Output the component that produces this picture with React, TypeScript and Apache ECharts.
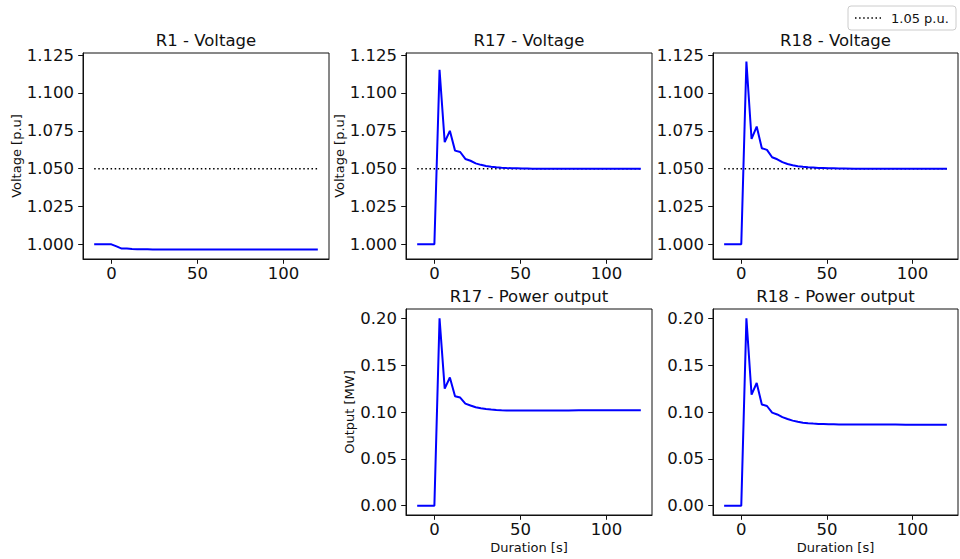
import { useEffect, useRef } from "react";
import * as echarts from "echarts";

// Sample times [s]
const TIME_S = [
  -10, 0, 3, 6, 9, 12, 15, 18, 21, 24, 27, 30, 33, 36, 39, 42, 45, 48, 51, 54, 57, 60,
  66, 72, 78, 84, 90, 96, 102, 108, 114, 120,
];

// Bus voltages [p.u.]
const R1_VOLTAGE = [
  1.0, 1.0, 0.9986, 0.9972, 0.9972, 0.9969, 0.9968, 0.9967, 0.9967, 0.9966, 0.9966, 0.9966,
  0.9966, 0.9966, 0.9966, 0.9966, 0.9966, 0.9966, 0.9966, 0.9966, 0.9966, 0.9966,
  0.9966, 0.9966, 0.9966, 0.9966, 0.9966, 0.9966, 0.9966, 0.9966, 0.9966, 0.9966,
];
const R17_VOLTAGE = [
  1.0, 1.0, 1.1153, 1.0675, 1.075, 1.0619, 1.061, 1.0564, 1.0552, 1.0535, 1.0525, 1.0518,
  1.0513, 1.0509, 1.0506, 1.0504, 1.0503, 1.0502, 1.0501, 1.0501, 1.05, 1.05,
  1.05, 1.05, 1.05, 1.05, 1.05, 1.05, 1.05, 1.05, 1.05, 1.05,
];
const R18_VOLTAGE = [
  1.0, 1.0, 1.1208, 1.0696, 1.0778, 1.0635, 1.0624, 1.0575, 1.0562, 1.0543, 1.0531, 1.0522,
  1.0516, 1.0512, 1.0509, 1.0507, 1.0505, 1.0504, 1.0503, 1.0502, 1.0501, 1.0501,
  1.05, 1.05, 1.05, 1.05, 1.05, 1.05, 1.05, 1.05, 1.05, 1.05,
];

// Generator active power output [MW]
const R17_POWER = [
  0, 0, 0.2, 0.125, 0.1368, 0.1168, 0.1154, 0.109, 0.1069, 0.1051, 0.104, 0.1032,
  0.1026, 0.1021, 0.1018, 0.1016, 0.1015, 0.1015, 0.1015, 0.1015, 0.1015, 0.1015,
  0.1015, 0.1016, 0.1017, 0.1018, 0.1018, 0.1019, 0.1019, 0.102, 0.102, 0.102,
];
const R18_POWER = [
  0, 0, 0.2, 0.1186, 0.131, 0.108, 0.1064, 0.0993, 0.0974, 0.0945, 0.0925, 0.0908,
  0.0895, 0.0886, 0.088, 0.0876, 0.0873, 0.0871, 0.0869, 0.0868, 0.0867, 0.0867,
  0.0866, 0.0866, 0.0866, 0.0866, 0.0866, 0.0865, 0.0865, 0.0865, 0.0865, 0.0865,
];

const VOLTAGE_LIMIT = 1.05;

const TIME_TICKS = [0, 50, 100];
const VOLTAGE_TICKS = [1.0, 1.025, 1.05, 1.075, 1.1, 1.125];
const POWER_TICKS = [0, 0.05, 0.1, 0.15, 0.2];

const PANEL_TITLES = [
  "R1 - Voltage",
  "R17 - Voltage",
  "R18 - Voltage",
  "R17 - Power output",
  "R18 - Power output",
];

const FONT = "DejaVu Sans";
const INK = "#111";
const DOTTED: number[] = [1.5, 2.6];

type Panel = {
  title: string;
  values: number[];
  kind: "voltage" | "power";
  box: { left: number; top: number; width: number; height: number };
  yName: string;
  xName: string;
  limit: boolean;
};

const PANELS: Panel[] = [
  { title: PANEL_TITLES[0], values: R1_VOLTAGE, kind: "voltage", box: { left: 83, top: 53, width: 246, height: 206 }, yName: "Voltage [p.u]", xName: "", limit: true },
  { title: PANEL_TITLES[1], values: R17_VOLTAGE, kind: "voltage", box: { left: 406, top: 53, width: 246, height: 206 }, yName: "Voltage [p.u]", xName: "", limit: true },
  { title: PANEL_TITLES[2], values: R18_VOLTAGE, kind: "voltage", box: { left: 713, top: 53, width: 245, height: 206 }, yName: "", xName: "", limit: true },
  { title: PANEL_TITLES[3], values: R17_POWER, kind: "power", box: { left: 406, top: 309, width: 246, height: 206 }, yName: "Output [MW]", xName: "Duration [s]", limit: false },
  { title: PANEL_TITLES[4], values: R18_POWER, kind: "power", box: { left: 713, top: 309, width: 245, height: 206 }, yName: "", xName: "Duration [s]", limit: false },
];

function buildOption(): echarts.EChartsCoreOption {
  const axisLine = { show: true, onZero: false, lineStyle: { color: INK, width: 1 } };

  const grid = PANELS.map((p) => ({
    ...p.box,
    show: true,
    borderColor: INK,
    borderWidth: 1,
    backgroundColor: "#fff",
    containLabel: false,
  }));

  const title = PANELS.map((p) => ({
    text: p.title,
    left: p.box.left + p.box.width / 2,
    top: p.box.top - 21,
    textAlign: "center",
    padding: 0,
    textStyle: { fontFamily: FONT, fontSize: 16.5, fontWeight: "normal", color: INK },
  }));

  const xAxis = PANELS.map((p, i) => ({
    type: "value",
    gridIndex: i,
    min: -16.5,
    max: 126.5,
    axisLine,
    axisTick: { show: true, length: 4.8, customValues: TIME_TICKS, lineStyle: { color: INK, width: 1 } },
    axisLabel: {
      customValues: TIME_TICKS,
      fontFamily: FONT,
      fontSize: 16.5,
      color: INK,
      margin: 6,
    },
    splitLine: { show: false },
    name: p.xName,
    nameLocation: "middle",
    nameGap: 26,
    nameTextStyle: { fontFamily: FONT, fontSize: 13, color: INK },
  }));

  const yAxis = PANELS.map((p, i) => {
    const isV = p.kind === "voltage";
    const ticks = isV ? VOLTAGE_TICKS : POWER_TICKS;
    return {
      type: "value",
      gridIndex: i,
      min: isV ? 0.9903 : -0.01,
      max: isV ? 1.1264 : 0.21,
      axisLine,
      axisTick: { show: true, length: 4.8, customValues: ticks, lineStyle: { color: INK, width: 1 } },
      axisLabel: {
        customValues: ticks,
        fontFamily: FONT,
        fontSize: 16.5,
        color: INK,
        margin: 9,
        formatter: (v: number) => v.toFixed(isV ? 3 : 2),
      },
      splitLine: { show: false },
      name: p.yName,
      nameLocation: "middle",
      nameGap: isV ? 60 : 50,
      nameTextStyle: { fontFamily: FONT, fontSize: 13, color: INK },
    };
  });

  const series: any[] = [];
  PANELS.forEach((p, i) => {
    if (p.limit) {
      series.push({
        type: "line",
        name: "1.05 p.u.",
        xAxisIndex: i,
        yAxisIndex: i,
        data: [
          [TIME_S[0], VOLTAGE_LIMIT],
          [TIME_S[TIME_S.length - 1], VOLTAGE_LIMIT],
        ],
        showSymbol: false,
        lineStyle: { color: "#000", width: 1.5, type: DOTTED },
        z: 2,
      });
    }
    series.push({
      type: "line",
      name: p.title,
      xAxisIndex: i,
      yAxisIndex: i,
      data: TIME_S.map((t, k) => [t, p.values[k]]),
      showSymbol: false,
      lineStyle: { color: "#0000ff", width: 2 },
      itemStyle: { color: "#0000ff" },
      z: 3,
    });
  });

  // Legend box for the voltage limit line
  const graphic = [
    {
      type: "rect",
      shape: { x: 848, y: 6, width: 108, height: 24, r: 3 },
      style: { fill: "rgba(255,255,255,0.8)", stroke: "#cccccc", lineWidth: 1 },
      z: 10,
    },
    {
      type: "line",
      shape: { x1: 855, y1: 18, x2: 881, y2: 18 },
      style: { stroke: "#000", lineWidth: 1.5, lineDash: DOTTED },
      z: 11,
    },
    {
      type: "text",
      x: 891,
      y: 18,
      style: {
        text: `${VOLTAGE_LIMIT.toFixed(2)} p.u.`,
        fontFamily: FONT,
        fontSize: 13,
        fill: INK,
        verticalAlign: "middle",
        align: "left",
      },
      z: 11,
    },
  ];

  return {
    animation: false,
    backgroundColor: "#fff",
    title,
    grid,
    xAxis,
    yAxis,
    series,
    graphic,
  };
}

export default function App() {
  const ref = useRef<HTMLDivElement>(null);

  useEffect(() => {
    if (!ref.current) return;
    const chart = echarts.init(ref.current, undefined, { renderer: "svg" });
    chart.setOption(buildOption());
    return () => chart.dispose();
  }, []);

  return (
    <div
      ref={ref}
      style={{ position: "absolute", left: 0, top: 0, width: 960, height: 559 }}
    />
  );
}
